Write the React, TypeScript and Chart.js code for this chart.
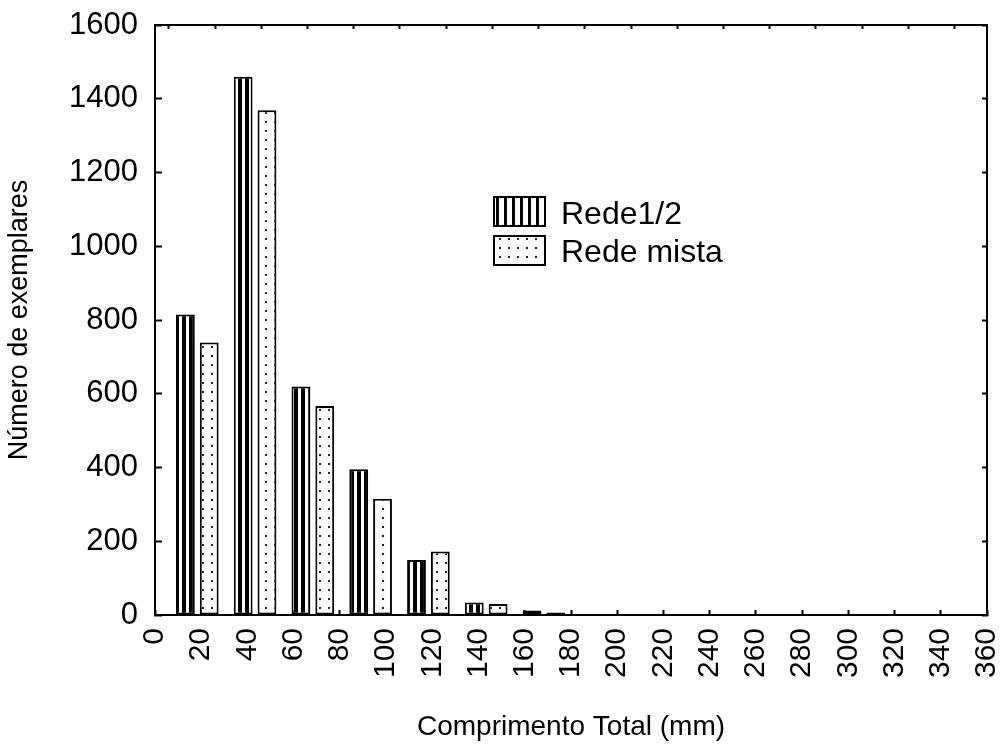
import React, { useEffect, useRef } from "react";
import { Chart, registerables } from "chart.js";

Chart.register(...registerables);

// ---- data ----
const binCenters = [18.3, 43.3, 68.3, 93.3, 118.3, 143.3, 168.3];
const rede12 = [815, 1460, 620, 395, 149, 34, 12];
const redeMista = [739, 1369, 567, 315, 172, 30, 7];
const seriesLabels = ["Rede1/2", "Rede mista"];
const xTitle = "Comprimento Total (mm)";
const yTitle = "Número de exemplares";
const topTickValues = [6, 26, 46, 66, 86, 106, 126, 146, 166, 186, 206, 226, 246, 266, 286, 306, 326, 346];

const FONT = "'Liberation Sans', Arial, Helvetica, sans-serif";

function makeStripePattern(period: number, black: number): CanvasPattern | string {
  const c = document.createElement("canvas");
  c.width = period;
  c.height = 4;
  const g = c.getContext("2d");
  if (!g) return "#fff";
  g.fillStyle = "#fff";
  g.fillRect(0, 0, period, 4);
  g.fillStyle = "#000";
  g.fillRect(0, 0, black, 4);
  return g.createPattern(c, "repeat") || "#fff";
}

function makeDotPattern(): CanvasPattern | string {
  const c = document.createElement("canvas");
  c.width = 9;
  c.height = 9;
  const g = c.getContext("2d");
  if (!g) return "#fff";
  g.fillStyle = "#fff";
  g.fillRect(0, 0, 9, 9);
  g.fillStyle = "#222";
  g.fillRect(4, 4, 2, 2);
  return g.createPattern(c, "repeat") || "#fff";
}

function fixSize(dim: "width" | "height", value: number) {
  return (s: any) => {
    s[dim] = value;
    s.paddingTop = 0;
    s.paddingBottom = 0;
    s.paddingLeft = 0;
    s.paddingRight = 0;
  };
}

export default function App() {
  const ref = useRef<HTMLCanvasElement | null>(null);

  useEffect(() => {
    if (!ref.current) return;
    const stripe = makeStripePattern(7, 4);
    const legendStripe = makeStripePattern(8, 3);
    const dots = makeDotPattern();
    const legendFills = [legendStripe, dots];

    const legendPlugin = {
      id: "boxLegend",
      afterDraw(chart: any) {
        const ctx = chart.ctx as CanvasRenderingContext2D;
        chart.data.datasets.forEach((ds: any, i: number) => {
          const by = 196 + i * 39;
          ctx.save();
          ctx.fillStyle = legendFills[i] as any;
          ctx.fillRect(493, by, 53, 31);
          ctx.lineWidth = 2;
          ctx.strokeStyle = "#000";
          ctx.strokeRect(494, by + 1, 51, 29);
          ctx.fillStyle = "#000";
          ctx.font = `32px ${FONT}`;
          ctx.textAlign = "left";
          ctx.textBaseline = "alphabetic";
          ctx.fillText(ds.label, 561, 224 + i * 38);
          ctx.restore();
        });
      },
    };

    const chart = new Chart(ref.current, {
      type: "bar",
      data: {
        datasets: [
          {
            label: seriesLabels[0],
            data: binCenters.map((c, i) => ({ x: c, y: rede12[i] })),
            backgroundColor: stripe as any,
            borderColor: "#000",
            borderWidth: 2,
            borderSkipped: false,
            categoryPercentage: 1.03,
            barPercentage: 0.79,
          },
          {
            label: seriesLabels[1],
            data: binCenters.map((c, i) => ({ x: c, y: redeMista[i] })),
            backgroundColor: dots as any,
            borderColor: "#000",
            borderWidth: 2,
            borderSkipped: false,
            categoryPercentage: 1.03,
            barPercentage: 0.79,
          },
        ],
      },
      options: {
        animation: false,
        responsive: false,
        devicePixelRatio: 1,
        layout: { padding: { left: 0, top: 25, right: 21, bottom: 0 } },
        plugins: { legend: { display: false }, tooltip: { enabled: false } },
        scales: {
          x: {
            type: "linear",
            position: "bottom",
            min: 0,
            max: 360,
            offset: false,
            grid: { display: true, drawOnChartArea: false, offset: false, tickLength: -5, tickWidth: 2, tickColor: "#000" },
            border: { display: true, color: "#000", width: 2 },
            ticks: {
              stepSize: 20,
              autoSkip: false,
              maxRotation: 90,
              minRotation: 90,
              padding: 18,
              color: "#000",
              font: { family: FONT, size: 30 },
              callback: (v: any) => String(v),
            },
            title: { display: true, text: xTitle, color: "#000", font: { family: FONT, size: 28 }, padding: { top: 0, bottom: 0 } },
            afterFit: fixSize("height", 129),
          },
          x2: {
            type: "linear",
            position: "top",
            min: 0,
            max: 360,
            offset: false,
            grid: { display: true, drawOnChartArea: false, offset: false, tickLength: -4, tickWidth: 2, tickColor: "#000" },
            border: { display: true, color: "#000", width: 2 },
            ticks: { display: false },
            afterBuildTicks: (s: any) => {
              s.ticks = topTickValues.map((v) => ({ value: v }));
            },
            afterFit: fixSize("height", 0),
          },
          y: {
            type: "linear",
            position: "left",
            min: 0,
            max: 1600,
            grid: { display: true, drawOnChartArea: false, tickLength: -7, tickWidth: 2, tickColor: "#000" },
            border: { display: true, color: "#000", width: 2 },
            ticks: { stepSize: 200, padding: 24, color: "#000", font: { family: FONT, size: 31 }, callback: (v: any) => String(v) },
            title: { display: true, text: yTitle, color: "#000", font: { family: FONT, size: 27 }, padding: { top: 3, bottom: 0 } },
            afterFit: fixSize("width", 155),
          },
          y2: {
            type: "linear",
            position: "right",
            min: 0,
            max: 1600,
            grid: { display: true, drawOnChartArea: false, tickLength: -5, tickWidth: 2, tickColor: "#000" },
            border: { display: true, color: "#000", width: 2 },
            ticks: { display: false, stepSize: 200 },
            afterFit: fixSize("width", 0),
          },
        },
      } as any,
      plugins: [legendPlugin],
    });
    return () => chart.destroy();
  }, []);

  return (
    <div style={{ position: "absolute", left: 0, top: 0, width: 1008, height: 744, background: "#fff" }}>
      <canvas ref={ref} width={1008} height={744} style={{ display: "block" }} />
    </div>
  );
}
